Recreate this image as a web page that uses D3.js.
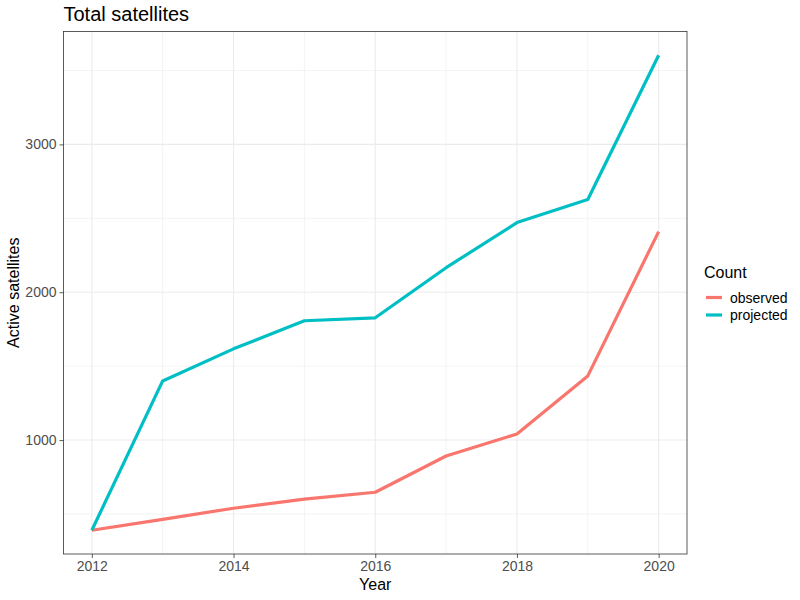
<!DOCTYPE html>
<html>
<head>
<meta charset="utf-8">
<script src="https://cdn.jsdelivr.net/npm/d3@7"></script>
<style>
  body { margin: 0; background: #fff; }
  svg { font-family: "Liberation Sans", Arial, sans-serif; }
</style>
</head>
<body>
<div id="chart"></div>
<script>
// data
var years = [2012, 2013, 2014, 2015, 2016, 2017, 2018, 2019, 2020];
var observed = [390, 464, 539, 600, 647, 892, 1041, 1434, 2410];
var projected = [390, 1400, 1617, 1807, 1827, 2166, 2471, 2627, 3603];
var seriesNames = ["observed", "projected"];
var seriesColors = ["#F8766D", "#00BFC4"];
var yTicks = [1000, 2000, 3000];
var yMinor = [500, 1500, 2500, 3500];
var xTicks = [2012, 2014, 2016, 2018, 2020];
var xMinor = [2013, 2015, 2017, 2019];

var width = 800, height = 600;
var margin = { left: 63.5, top: 31.5, right: 113, bottom: 46 };
var x0 = margin.left, x1 = width - margin.right;
var y0 = margin.top, y1 = height - margin.bottom;

var svg = d3.select("#chart").append("svg")
  .attr("width", width)
  .attr("height", height);

// ggplot-like 5% expansion
var allVals = observed.concat(projected);
var yMin = d3.min(allVals), yMax = d3.max(allVals);
var yPad = (yMax - yMin) * 0.05;
var xPad = (d3.max(years) - d3.min(years)) * 0.05;

var x = d3.scaleLinear()
  .domain([d3.min(years) - xPad, d3.max(years) + xPad])
  .range([x0, x1]);
var y = d3.scaleLinear()
  .domain([yMin - yPad, yMax + yPad])
  .range([y1, y0]);

// grid
var grid = svg.append("g");
grid.selectAll(".ymin").data(yMinor).enter().append("line")
  .attr("x1", x0).attr("x2", x1)
  .attr("y1", function(d) { return y(d); })
  .attr("y2", function(d) { return y(d); })
  .style("stroke", "#EBEBEB").style("stroke-width", 0.6);
grid.selectAll(".xmin").data(xMinor).enter().append("line")
  .attr("y1", y0).attr("y2", y1)
  .attr("x1", function(d) { return x(d); })
  .attr("x2", function(d) { return x(d); })
  .style("stroke", "#EBEBEB").style("stroke-width", 0.6);
grid.selectAll(".ymaj").data(yTicks).enter().append("line")
  .attr("x1", x0).attr("x2", x1)
  .attr("y1", function(d) { return y(d); })
  .attr("y2", function(d) { return y(d); })
  .style("stroke", "#EBEBEB").style("stroke-width", 1.1);
grid.selectAll(".xmaj").data(xTicks).enter().append("line")
  .attr("y1", y0).attr("y2", y1)
  .attr("x1", function(d) { return x(d); })
  .attr("x2", function(d) { return x(d); })
  .style("stroke", "#EBEBEB").style("stroke-width", 1.1);

// lines
var line = d3.line()
  .x(function(d) { return x(d[0]); })
  .y(function(d) { return y(d[1]); });

var seriesData = [observed, projected];
seriesData.forEach(function(vals, i) {
  svg.append("path")
    .datum(years.map(function(yr, j) { return [yr, vals[j]]; }))
    .attr("d", line)
    .style("fill", "none")
    .style("stroke", seriesColors[i])
    .style("stroke-width", 3.2)
    .style("stroke-linejoin", "round");
});

// panel border
svg.append("rect")
  .attr("x", x0).attr("y", y0)
  .attr("width", x1 - x0).attr("height", y1 - y0)
  .style("fill", "none")
  .style("stroke", "#333")
  .style("stroke-width", 0.8);

// axes
var xAxis = svg.append("g")
  .attr("transform", "translate(0," + y1 + ")")
  .call(d3.axisBottom(x).tickValues(xTicks).tickFormat(d3.format("d")).tickSizeOuter(0).tickSize(4).tickPadding(3));
var yAxis = svg.append("g")
  .attr("transform", "translate(" + x0 + ",0)")
  .call(d3.axisLeft(y).tickValues(yTicks).tickFormat(d3.format("d")).tickSizeOuter(0).tickSize(4).tickPadding(3));

[xAxis, yAxis].forEach(function(a) {
  a.attr("font-size", null).attr("font-family", null);
  a.select(".domain").remove();
  a.selectAll(".tick line").style("stroke", "#333").style("stroke-width", 0.8);
  a.selectAll(".tick text")
    .style("fill", "#4D4D4D")
    .style("font-size", "14px");
});

// titles
svg.append("text")
  .attr("x", x0).attr("y", 21)
  .style("font-size", "20px")
  .text("Total satellites");

svg.append("text")
  .attr("x", (x0 + x1) / 2).attr("y", 590)
  .style("text-anchor", "middle")
  .style("font-size", "16px")
  .text("Year");

svg.append("text")
  .attr("transform", "translate(19," + (y0 + y1) / 2 + ") rotate(-90)")
  .style("text-anchor", "middle")
  .style("font-size", "16px")
  .text("Active satellites");

// legend
var legend = svg.append("g").attr("transform", "translate(704,0)");
legend.append("text")
  .attr("x", 0).attr("y", 278)
  .style("font-size", "16px")
  .text("Count");

var items = legend.selectAll(".item").data(seriesNames).enter().append("g")
  .attr("transform", function(d, i) { return "translate(0," + (297.5 + i * 17.5) + ")"; });
items.append("line")
  .attr("x1", 2).attr("x2", 18)
  .style("stroke", function(d, i) { return seriesColors[i]; })
  .style("stroke-width", 3.2);
items.append("text")
  .attr("x", 26).attr("y", 5)
  .style("font-size", "14px")
  .text(function(d) { return d; });
</script>
</body>
</html>
